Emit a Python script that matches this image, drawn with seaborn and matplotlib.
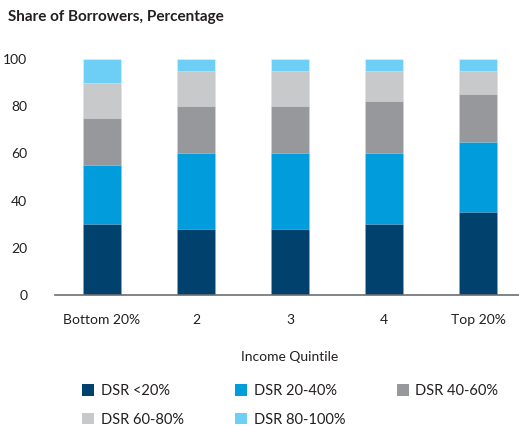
import numpy as np
import pandas as pd
import seaborn as sns
import matplotlib.pyplot as plt
from matplotlib.patches import Patch

# ------------------------------- data ------------------------------- #
quintiles = ['Bottom 20%', '2', '3', '4', 'Top 20%']
dsr_bands = ['DSR <20%', 'DSR 20-40%', 'DSR 40-60%', 'DSR 60-80%', 'DSR 80-100%']
dsr_lt20 = [30, 28, 28, 30, 35]
dsr_20_40 = [25, 32, 32, 30, 30]
dsr_40_60 = [20, 20, 20, 22, 20]
dsr_60_80 = [15, 15, 15, 13, 10]
dsr_80_100 = [10, 5, 5, 5, 5]

# ------------------------------- setting ---------------------------- #
colors = ['#00416E', '#009CDC', '#96989B', '#C8C9CB', '#6ECFF6']
text_color = '#231F20'

sns.set_style('white')
plt.rcParams['font.family'] = ['Lato', 'DejaVu Sans']
plt.rcParams['text.color'] = text_color

# table: cumulative heights so bars can be stacked back to front
df = pd.DataFrame({'quintile': quintiles,
                   dsr_bands[0]: dsr_lt20,
                   dsr_bands[1]: dsr_20_40,
                   dsr_bands[2]: dsr_40_60,
                   dsr_bands[3]: dsr_60_80,
                   dsr_bands[4]: dsr_80_100})
cum = df[dsr_bands].cumsum(axis=1)

fig = plt.figure(figsize=(5.19, 4.26), dpi=100)
ax = fig.add_axes([55 / 519, 131 / 426, 470 / 519, 236 / 426])

for band, col in reversed(list(zip(dsr_bands, colors))):
    sns.barplot(x=df['quintile'], y=cum[band], color=col, width=0.395,
                order=quintiles, ax=ax, saturation=1,
                edgecolor=(1, 1, 1, 0.35), linewidth=0.6)

ax.set_ylim(0, 100)
ax.set_xlim(-0.5, 4.5)
ax.set_yticks([0, 20, 40, 60, 80, 100])
ax.set_xlabel('Income Quintile', fontsize=10, color=text_color, labelpad=18)
ax.set_ylabel('')
ax.tick_params(axis='y', length=0, pad=20, labelsize=10, labelcolor=text_color)
ax.tick_params(axis='x', length=0, pad=14, labelsize=10, labelcolor=text_color)
for lab in ax.get_yticklabels():
    lab.set_horizontalalignment('right')

sns.despine(ax=ax, left=True)
ax.spines['bottom'].set_color('#6D6E71')
ax.spines['bottom'].set_linewidth(1.2)

fig.text(8 / 519, 1 - 17 / 426, 'Share of Borrowers, Percentage',
         fontsize=11, fontweight='bold', va='center', ha='left')

# legend fills column by column, so reorder to read row by row
handles = [Patch(facecolor=c, edgecolor='none') for c in colors]
order = [0, 3, 1, 4, 2]
fig.legend([handles[i] for i in order], [dsr_bands[i] for i in order],
           loc='upper left', ncol=3,
           bbox_to_anchor=(82 / 519, 1 - 384 / 426), frameon=False,
           fontsize=10.5, handlelength=0.85, handleheight=0.85,
           handletextpad=0.45, columnspacing=3.5, labelspacing=1.0,
           borderaxespad=0, borderpad=0)

plt.savefig('out.png', dpi=100)
